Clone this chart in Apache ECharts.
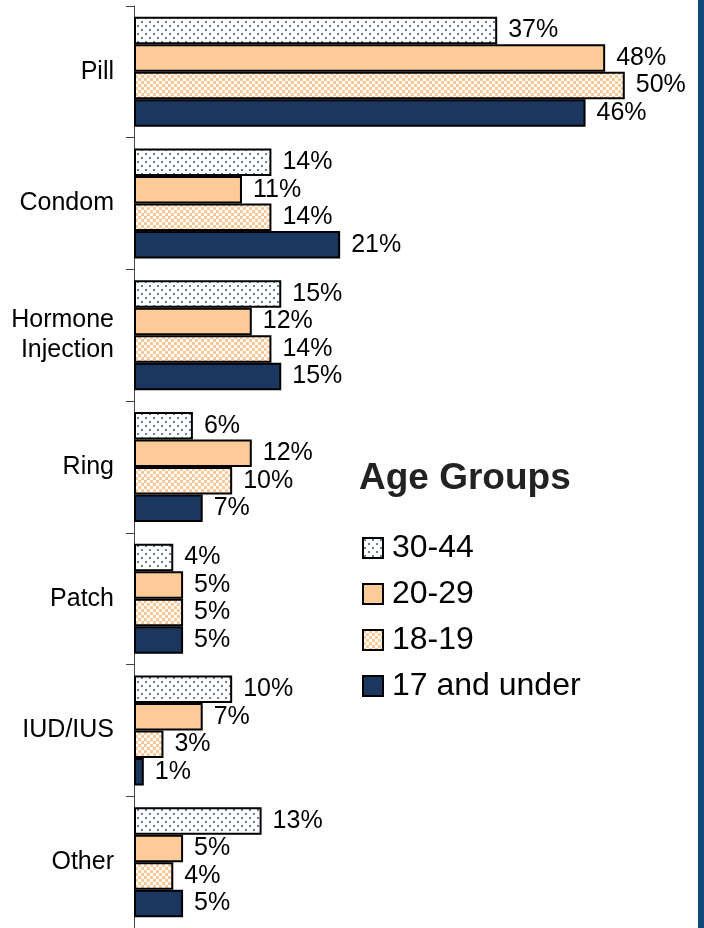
<!DOCTYPE html>
<html>
<head>
<meta charset="utf-8">
<script src="https://cdn.jsdelivr.net/npm/echarts@6/dist/echarts.min.js"></script>
<style>
html,body{margin:0;padding:0;background:#fff;}
#chart{width:704px;height:928px;}
</style>
</head>
<body>
<div id="chart"></div>
<script>
var categories = ['Pill', 'Condom', 'Hormone\nInjection', 'Ring', 'Patch', 'IUD/IUS', 'Other'];
var seriesNames = ['30-44', '20-29', '18-19', '17 and under'];
var age3044 = [37, 14, 15, 6, 4, 10, 13];
var age2029 = [48, 11, 12, 12, 5, 7, 5];
var age1819 = [50, 14, 14, 10, 5, 3, 4];
var age17under = [46, 21, 15, 7, 5, 1, 5];
var legendTitle = 'Age Groups';

function dotPattern() {
  var c = document.createElement('canvas');
  c.width = 8; c.height = 8;
  var g = c.getContext('2d');
  g.fillStyle = '#ffffff'; g.fillRect(0, 0, 8, 8);
  g.fillStyle = '#2a4580';
  g.beginPath(); g.arc(2, 2, 0.95, 0, Math.PI * 2); g.fill();
  g.beginPath(); g.arc(6, 6, 0.95, 0, Math.PI * 2); g.fill();
  return {image: c, repeat: 'repeat'};
}
function checkPattern() {
  var c = document.createElement('canvas');
  c.width = 6; c.height = 6;
  var g = c.getContext('2d');
  g.fillStyle = '#ffffff'; g.fillRect(0, 0, 6, 6);
  g.fillStyle = '#fcc996';
  g.fillRect(0, 0, 3, 3); g.fillRect(3, 3, 3, 3);
  return {image: c, repeat: 'repeat'};
}

var fills = [dotPattern(), '#fdcb98', checkPattern(), '#1b365f'];
var values = [age3044, age2029, age1819, age17under];
var FONT = '"Liberation Sans", Arial, sans-serif';

var series = seriesNames.map(function (name, i) {
  return {
    name: name,
    type: 'bar',
    data: values[i],
    barWidth: 27.5,
    barGap: '0%',
    itemStyle: {color: fills[i], borderColor: '#000', borderWidth: 2},
    label: {
      show: true,
      position: 'right',
      distance: 11,
      formatter: '{c}%',
      color: '#000',
      fontSize: 25,
      fontFamily: FONT
    },
    emphasis: {disabled: true}
  };
});

var chart = echarts.init(document.getElementById('chart'), null, {renderer: 'canvas'});
chart.setOption({
  animation: false,
  backgroundColor: '#fff',
  grid: {left: 134, right: 10.5, top: 6, height: 926, containLabel: false},
  xAxis: {
    type: 'value', min: 0, max: 57, show: false
  },
  yAxis: {
    type: 'category',
    data: categories,
    inverse: true,
    axisLine: {show: true, lineStyle: {color: '#444', width: 1}},
    axisTick: {show: true, inside: false, length: 8, lineStyle: {color: '#444'}},
    axisLabel: {color: '#000', fontSize: 25, fontFamily: FONT, margin: 20, lineHeight: 30, align: 'right'},
    splitLine: {show: false}
  },
  legend: {
    orient: 'vertical',
    left: 362,
    top: 532,
    padding: 0,
    itemWidth: 20,
    itemHeight: 20,
    itemGap: 14,
    icon: 'rect',
    data: seriesNames,
    textStyle: {color: '#000', fontSize: 32, lineHeight: 32, fontFamily: FONT, padding: [0, 0, 0, 4]},
    selectedMode: false
  },
  graphic: [
    {type: 'text', left: 359, top: 460, style: {text: legendTitle, fontSize: 37, fontWeight: 'bold', fontFamily: FONT, fill: '#222'}},
    {type: 'rect', shape: {x: 698, y: 0, width: 6, height: 928}, style: {fill: '#104a7a'}}
  ],
  series: series
});
</script>
</body>
</html>
